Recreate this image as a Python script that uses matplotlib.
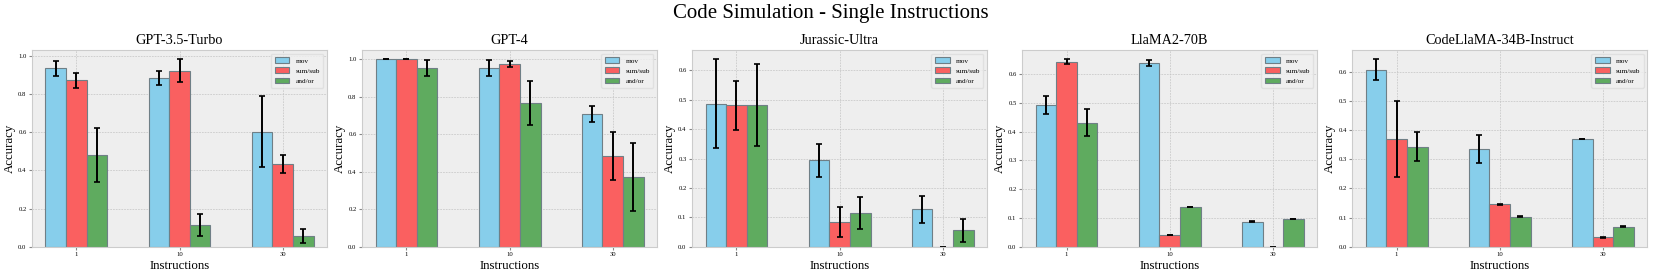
import matplotlib
matplotlib.use("Agg")
import matplotlib.pyplot as plt
import numpy as np

plt.rcParams['font.family'] = ['Liberation Serif', 'DejaVu Serif']

models = ["GPT-3.5-Turbo", "GPT-4", "Jurassic-Ultra", "LlaMA2-70B", "CodeLlaMA-34B-Instruct"]
instructions = ["1", "10", "30"]
series = ["mov", "sum/sub", "and/or"]

mov = [[0.934, 0.882, 0.603], [1.0, 0.954, 0.710], [0.487, 0.295, 0.128], [0.492, 0.638, 0.0876], [0.606, 0.335, 0.369]]
mov_err = [[0.039, 0.037, 0.187], [0.0, 0.041, 0.042], [0.15, 0.056, 0.046], [0.031, 0.010, 0.001], [0.036, 0.049, 0.001]]
sumsub = [[0.871, 0.920, 0.433], [1.0, 0.977, 0.485], [0.481, 0.086, 0.0], [0.642, 0.041, 0.0], [0.368, 0.146, 0.033]]
sumsub_err = [[0.038, 0.060, 0.049], [0.0, 0.015, 0.128], [0.084, 0.051, 0.0], [0.0085, 0.001, 0.0], [0.13, 0.001, 0.001]]
andor = [[0.482, 0.115, 0.0557], [0.954, 0.767, 0.373], [0.481, 0.115, 0.056], [0.430, 0.138, 0.0968], [0.343, 0.103, 0.069]]
andor_err = [[0.141, 0.056, 0.038], [0.041, 0.116, 0.18], [0.139, 0.054, 0.039], [0.047, 0.001, 0.001], [0.05, 0.001, 0.001]]

colors = ["#87CEEB", "#FA6060", "#5FAB5F"]

fig = plt.figure(figsize=(16.61, 2.78), dpi=100)
fig.suptitle("Code Simulation - Single Instructions", fontsize=15, y=0.985)

x = np.arange(len(instructions))
w = 0.2
for i, m in enumerate(models):
    ax = fig.add_axes([0.0193 + i * 0.1987, 0.112, 0.1776, 0.708])
    ax.set_facecolor("#eeeeee")
    ax.set_axisbelow(True)
    ax.grid(True, linestyle=(0, (2.5, 1.5)), color="#c4c4c4", linewidth=0.5)
    data = [(mov[i], mov_err[i]), (sumsub[i], sumsub_err[i]), (andor[i], andor_err[i])]
    for j, (vals, errs) in enumerate(data):
        ax.bar(x + (j - 1) * w, vals, w, yerr=errs, color=colors[j], edgecolor="#6f7f86",
               linewidth=0.8, label=series[j], capsize=2.5,
               error_kw=dict(elinewidth=1.4, capthick=1.2, ecolor="black"))
    ax.set_xticks(x)
    ax.set_xticklabels(instructions)
    ax.set_title(m, fontsize=10.3, pad=4)
    ax.set_xlabel("Instructions", fontsize=9.3, labelpad=2)
    ax.set_ylabel("Accuracy", fontsize=9.3)
    ax.yaxis.set_label_coords(-0.056, 0.5)
    ax.tick_params(labelsize=4.8, length=2, color="#888888", pad=2)
    for s in ax.spines.values():
        s.set_color("#cccccc")
    leg = ax.legend(loc="upper right", fontsize=5.3, frameon=True, handlelength=2.0,
                    handleheight=0.8, borderpad=0.5, labelspacing=0.5)
    leg.get_frame().set_facecolor("#f0f0f0")
    leg.get_frame().set_edgecolor("#dddddd")

fig.savefig("out.png", dpi=100)
